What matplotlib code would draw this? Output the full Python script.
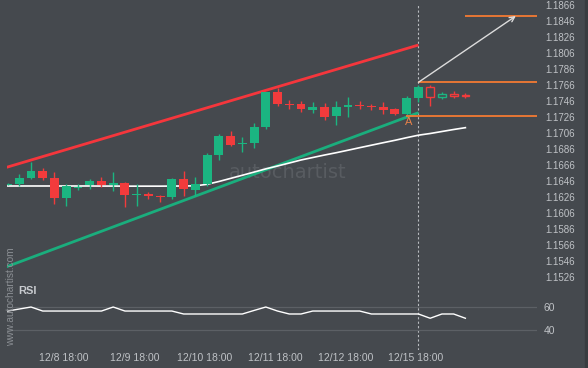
import numpy as np
import matplotlib.pyplot as plt

plt.rcParams["font.family"] = ["Liberation Sans", "DejaVu Sans"]

# 4h candles, EURUSD-like
opens = [1.16413, 1.16413, 1.16498, 1.16581, 1.16494, 1.16248, 1.16375, 1.16410, 1.16456, 1.16410,
         1.16435, 1.16290, 1.16288, 1.16271, 1.16256, 1.16481, 1.16348, 1.16419, 1.16781, 1.17019,
         1.16924, 1.16935, 1.17135, 1.17565, 1.17421, 1.17419, 1.17344, 1.17378, 1.17265, 1.17394,
         1.17409, 1.17396, 1.17385, 1.17353, 1.17294, 1.17498, 1.17635, 1.17503, 1.17544, 1.17531]
highs = [1.16431, 1.16550, 1.16698, 1.16615, 1.16565, 1.16415, 1.16415, 1.16481, 1.16503, 1.16569,
         1.16448, 1.16415, 1.16315, 1.16281, 1.16494, 1.16581, 1.16503, 1.16810, 1.17040, 1.17081,
         1.17003, 1.17178, 1.17573, 1.17615, 1.17469, 1.17460, 1.17440, 1.17428, 1.17456, 1.17503,
         1.17456, 1.17423, 1.17448, 1.17373, 1.17519, 1.17656, 1.17656, 1.17565, 1.17585, 1.17553]
lows = [1.16406, 1.16394, 1.16485, 1.16469, 1.16165, 1.16148, 1.16340, 1.16353, 1.16378, 1.16328,
        1.16135, 1.16148, 1.16228, 1.16198, 1.16235, 1.16269, 1.16269, 1.16394, 1.16719, 1.16894,
        1.16815, 1.16865, 1.17103, 1.17398, 1.17360, 1.17315, 1.17306, 1.17223, 1.17153, 1.17260,
        1.17356, 1.17344, 1.17290, 1.17281, 1.17269, 1.17448, 1.17394, 1.17485, 1.17490, 1.17498]
closes = [1.16425, 1.16494, 1.16581, 1.16498, 1.16248, 1.16390, 1.16388, 1.16456, 1.16410, 1.16435,
          1.16285, 1.16298, 1.16281, 1.16265, 1.16481, 1.16353, 1.16423, 1.16781, 1.17019, 1.16906,
          1.16931, 1.17131, 1.17565, 1.17419, 1.17415, 1.17356, 1.17381, 1.17260, 1.17381, 1.17403,
          1.17403, 1.17390, 1.17344, 1.17298, 1.17494, 1.17635, 1.17510, 1.17548, 1.17523, 1.17523]
ma = [1.16394, 1.16394, 1.16394, 1.16394, 1.16394, 1.16394, 1.16394, 1.16394, 1.16393, 1.16393,
      1.16392, 1.16392, 1.16392, 1.16392, 1.16393, 1.16394, 1.16396, 1.16415, 1.16450, 1.16489,
      1.16528, 1.16568, 1.16608, 1.16644, 1.16681, 1.16719, 1.16750, 1.16781, 1.16810, 1.16841,
      1.16873, 1.16904, 1.16935, 1.16965, 1.16998, 1.17029, 1.17050, 1.17075, 1.17100, 1.17123]
rsi = [56.3, 58.0, 59.7, 56.3, 56.3, 56.3, 56.3, 56.3, 56.3, 59.7,
       56.3, 56.3, 56.3, 56.3, 56.3, 53.8, 53.8, 53.8, 53.8, 53.8,
       53.8, 56.8, 59.7, 56.3, 53.8, 53.8, 56.3, 56.3, 56.3, 56.3,
       56.3, 53.8, 53.8, 53.8, 53.8, 53.8, 50.2, 53.8, 53.8, 50.2]

date_labels = ["12/8 18:00", "12/9 18:00", "12/10 18:00", "12/11 18:00", "12/12 18:00", "12/15 18:00"]
label_idx = [5, 11, 17, 23, 29, 35]
price_ticks = [1.1526, 1.1546, 1.1566, 1.1586, 1.1606, 1.1626, 1.1646, 1.1666, 1.1686,
               1.1706, 1.1726, 1.1746, 1.1766, 1.1786, 1.1806, 1.1826, 1.1846, 1.1866]

# channel (index, price)
red_x, red_y = [-0.07, 35], [1.16628, 1.18156]
green_x, green_y = [-0.07, 35], [1.15385, 1.17310]
levels = [1.18519, 1.17690, 1.17265]
level_start = [39, 35, 33.9]
arrow_from = (35, 1.17690)
arrow_to = (43.3, 1.18519)
point_a = (34.2, 1.17190)
now_idx = 35
hollow_from = 36

bg = "#45494e"
up_col = "#1bb581"
dn_col = "#f23b3c"
orange = "#f47a33"
txt_col = "#bfc2c6"

fig = plt.figure(figsize=(5.88, 3.68), dpi=100, facecolor=bg)
ax = fig.add_axes([6.7 / 588, 18 / 368, 530.3 / 588, 345.3 / 368], facecolor=bg)
ax_rsi = fig.add_axes([6.7 / 588, 23 / 368, 530.3 / 588, 60 / 368], facecolor="none")

x = np.arange(len(opens))
o = np.array(opens)
c = np.array(closes)
up = c >= o
cols = np.where(up, up_col, dn_col)
hollow = x >= hollow_from

# channel and MA first
ax.plot(red_x, red_y, color="#f5363c", lw=2, zorder=2, solid_capstyle="butt")
ax.plot(green_x, green_y, color="#1aae7d", lw=2, zorder=2, solid_capstyle="butt")
ax.plot(x, ma, color="white", lw=1.2, zorder=2)
ax.axvline(now_idx, color="#b9bcc0", lw=0.8, ls=(0, (2, 2)), zorder=1)

# candles
ax.vlines(x, lows, highs, colors=cols, lw=1, zorder=3)
body_h = np.maximum(np.abs(c - o), 0.00016)
body_b = np.minimum(o, c) - np.where(np.abs(c - o) < 0.00016, 0.00008, 0)
ax.bar(x[~hollow], body_h[~hollow], bottom=body_b[~hollow], width=0.76,
       color=cols[~hollow], zorder=4)
ax.bar(x[hollow], body_h[hollow], bottom=body_b[hollow], width=0.66,
       color=bg, edgecolor=cols[hollow], lw=1, zorder=4)

# levels and forecast
for lv, st in zip(levels, level_start):
    ax.hlines(lv, st, 45.2, color=orange, lw=1.3, zorder=3)
ax.annotate("", xy=arrow_to, xytext=arrow_from,
            arrowprops=dict(arrowstyle="->", color="#dcdcdc", lw=1, mutation_scale=9,
                            shrinkA=0, shrinkB=0), zorder=5)
ax.text(point_a[0], point_a[1], "A", color="#e8834a", fontsize=8, ha="center", va="center", zorder=5)

ax.text(0.53, 0.515, "autochartist", transform=ax.transAxes, fontsize=14,
        color="#585c61", ha="center", va="center", family="DejaVu Sans", zorder=0)

ax.set_xlim(-0.07, 45.1)
ax.set_ylim(1.14344, 1.18660)
ax.set_yticks(price_ticks)
ax.set_yticklabels([f"{p:.4f}" for p in price_ticks])
ax.yaxis.tick_right()
ax.set_xticks(np.array(label_idx) - 0.2)
ax.set_xticklabels(date_labels)
ax.tick_params(axis="y", length=0, pad=6, labelsize=7, labelcolor=txt_col)
ax.tick_params(axis="x", length=0, pad=2, labelsize=7.5, labelcolor=txt_col)
for s in ax.spines.values():
    s.set_visible(False)

# RSI panel
ax_rsi.axhline(60, color="#5c6065", lw=0.9)
ax_rsi.axhline(40, color="#5c6065", lw=0.9)
ax_rsi.plot(x, rsi, color="white", lw=1)
ax_rsi.set_xlim(-0.07, 45.1)
ax_rsi.set_ylim(27.6, 78.3)
ax_rsi.set_xticks([])
ax_rsi.yaxis.tick_right()
ax_rsi.set_yticks([40, 60])
ax_rsi.tick_params(axis="y", length=0, pad=5, labelsize=7.5, labelcolor=txt_col)
for s in ax_rsi.spines.values():
    s.set_visible(False)

fig.text(18 / 588, 1 - 291 / 368, "RSI", fontsize=8, fontweight="bold", color="#c8cbcf",
         ha="left", va="center")
fig.text(11 / 588, 1 - 297 / 368, "www.autochartist.com", fontsize=7.3, color="#8a8e93",
         rotation=90, ha="center", va="center")
fig.patches.append(plt.Rectangle((585 / 588, 0), 3 / 588, 1, transform=fig.transFigure,
                                 color="#393c40", zorder=0))

plt.savefig("out.png", dpi=100, facecolor=bg)
